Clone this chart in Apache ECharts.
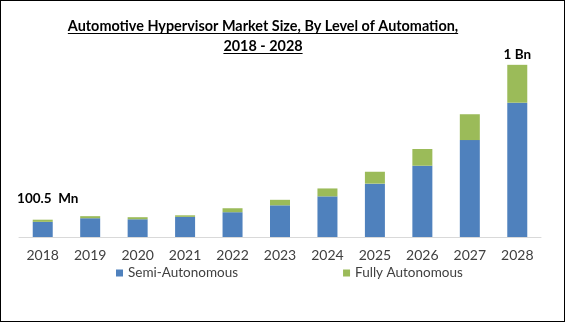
<!DOCTYPE html>
<html><head><meta charset="utf-8">
<script src="https://cdn.jsdelivr.net/npm/echarts@6/dist/echarts.min.js"></script>
<style>html,body{margin:0;padding:0;background:#fff}#c{width:565px;height:322px;box-sizing:border-box;border:1px solid #000}</style>
</head><body><div id="c"></div>
<script>
const years = ['2018','2019','2020','2021','2022','2023','2024','2025','2026','2027','2028'];
const semiAutonomous = [88, 109, 103, 117, 144, 184, 236, 310, 414, 563, 780];
const fullyAutonomous = [12.5, 12, 12, 9, 23, 32, 46, 69, 97, 150, 220];
const topLabels = {0: '100.5  Mn', 10: '1 Bn'};
const titleLines = ['Automotive Hypervisor Market Size, By Level of Automation,', '2018 - 2028'];
const font = 'Lato, "Open Sans", sans-serif';
const TS = 16, SX = 0.9, CX = 262;
const ctx = document.createElement('canvas').getContext('2d');
ctx.font = 'bold ' + TS + 'px ' + font;
const widths = titleLines.map(t => ctx.measureText(t).width * SX);
const lineY = [25, 45];
const ulY = [32.5, 52.5];
const graphic = [];
titleLines.forEach((t, i) => {
  graphic.push({type: 'text', x: CX, y: lineY[i], scaleX: SX,
    style: {text: t, align: 'center', verticalAlign: 'middle', fontFamily: font, fontSize: TS, fontWeight: 'bold', fill: '#000'}});
  graphic.push({type: 'line', shape: {x1: CX - widths[i] / 2, y1: ulY[i], x2: CX + widths[i] / 2, y2: ulY[i]}, style: {stroke: '#000', lineWidth: 1}});
});
const labelStyle = {0: {offset: [5, 0], distance: 14}, 10: {offset: [0, 0], distance: 3}};
const chart = echarts.init(document.getElementById('c'));
chart.setOption({
  animation: false,
  textStyle: {fontFamily: font},
  graphic: graphic,
  legend: {
    bottom: 36, left: 110, itemGap: 105, itemWidth: 7, itemHeight: 7, icon: 'rect',
    textStyle: {fontFamily: font, fontSize: 13.5, color: '#404040'},
    data: ['Semi-Autonomous', 'Fully Autonomous']
  },
  grid: {left: 18, right: 23, top: 38, bottom: 84},
  xAxis: {
    type: 'category', data: years,
    axisLine: {lineStyle: {color: '#d9d9d9'}}, axisTick: {show: false},
    axisLabel: {fontFamily: font, fontSize: 14, color: '#404040', margin: 11}
  },
  yAxis: {type: 'value', min: 0, max: 1150, show: false, splitLine: {show: false}},
  series: [
    {name: 'Semi-Autonomous', type: 'bar', stack: 't', barWidth: 20, data: semiAutonomous, itemStyle: {color: '#4f81bd'}},
    {name: 'Fully Autonomous', type: 'bar', stack: 't', barWidth: 20,
     data: fullyAutonomous.map((v, i) => topLabels[i] ? {value: v, label: Object.assign({show: true, formatter: topLabels[i]}, labelStyle[i])} : v),
     itemStyle: {color: '#9bbb59'},
     label: {show: false, position: 'top', fontFamily: font, fontSize: 13.5, fontWeight: 'bold', color: '#000'}}
  ]
});
</script></body></html>
